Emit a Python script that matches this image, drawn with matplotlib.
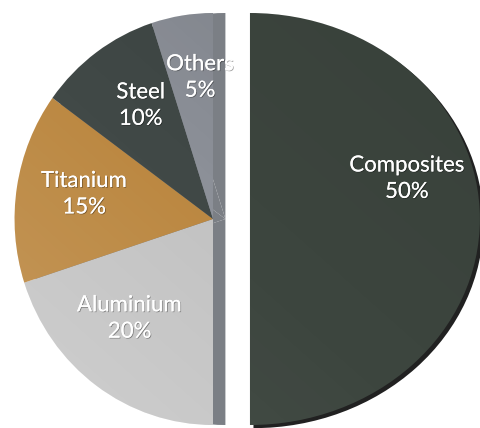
import numpy as np
import matplotlib.pyplot as plt
import matplotlib.patheffects as pe
from matplotlib.patches import Shadow
from matplotlib.transforms import Affine2D

# data
materials = ["Composites", "Aluminium", "Titanium", "Steel", "Others"]
shares = [50, 20, 15, 10, 5]
colors = ["#3c453e", "#c2c2c2", "#bb8740", "#404846", "#8c9098"]

# label placement: radius factor / angle shift (deg) from wedge middle
label_r = [0.71, 0.64, 0.66, 0.66, 0.69]
label_shift = [16, -5, -1.5, -2.5, -3.6]
# horizontal stretch of each half (the picture is a bit perspective)
stretch = [1.095, 0.945, 0.945, 0.945, 0.945]
# strength of the light-to-dark sheen on each slice
sheen = [0.06, 0.22, 0.16, 0.10, 0.14]

fig = plt.figure(figsize=(4.81, 4.28), dpi=100)
ax = fig.add_axes([0, 0, 1, 1])

xlim = (-213 / 210, (481 - 213) / 210)
ylim = (-(428 - 219) / 206, 219 / 206)

wedges, _ = ax.pie(shares, colors=colors, startangle=90, counterclock=False,
                   explode=[0.176, 0, 0, 0, 0],
                   wedgeprops=dict(linewidth=0))

for i, w in enumerate(wedges):
    cx, cy = w.center
    w.set_transform(Affine2D().translate(-cx, -cy).scale(stretch[i], 1)
                    .translate(cx, cy) + ax.transData)

# side band of the left half and dark rim of the composite half
# (Shadow offsets end up in data units * dpi/72)
for i, w in enumerate(wedges):
    if i == 0:
        ax.add_patch(Shadow(w, 0.011, -0.011, facecolor="#151515",
                            edgecolor="none", alpha=0.95))
    else:
        ax.add_patch(Shadow(w, 0.045, 0, facecolor="#7b7f85",
                            edgecolor="none", alpha=1))

# metallic sheen: light top-left, darker bottom-right, clipped to each slice
gy, gx = np.mgrid[0:1:200j, 0:1:200j]
ramp = (gx + gy) / 2
for i, w in enumerate(wedges):
    layer = np.zeros((200, 200, 4))
    light = ramp < 0.5
    layer[..., :3] = np.where(light[..., None], 1.0, 0.0)
    layer[..., 3] = np.abs(ramp - 0.5) * 2 * sheen[i]
    im = ax.imshow(layer, extent=(*xlim, ylim[1], ylim[0]), origin="upper",
                   interpolation="bilinear", zorder=1.5)
    im.set_clip_path(w)

for i, w in enumerate(wedges):
    mid = np.deg2rad((w.theta1 + w.theta2) / 2 + label_shift[i])
    cx, cy = w.center
    ax.text(cx + stretch[i] * label_r[i] * np.cos(mid),
            cy + label_r[i] * np.sin(mid),
            f"{materials[i]}\n{shares[i]}%", ha="center", va="center",
            color="white", fontsize=16, family="Lato", linespacing=1.4,
            zorder=3,
            path_effects=[pe.withSimplePatchShadow(offset=(0.6, -0.6),
                                                   shadow_rgbFace="black",
                                                   alpha=0.35),
                          pe.Normal()])

ax.set_aspect("auto")
ax.set_xlim(*xlim)
ax.set_ylim(*ylim)
ax.axis("off")

fig.savefig("out.png", dpi=100, facecolor="white")
